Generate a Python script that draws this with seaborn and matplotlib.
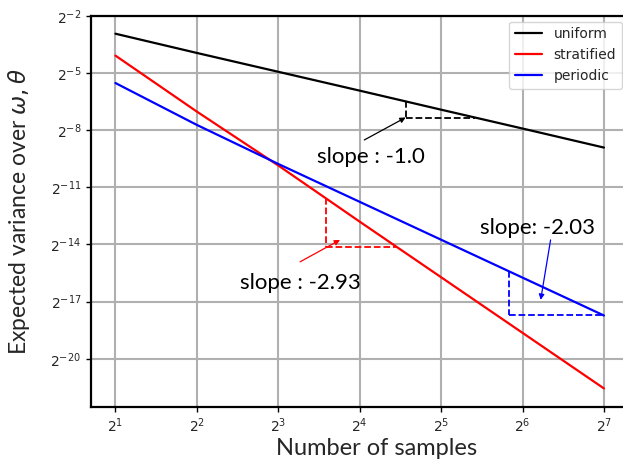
import numpy as np
import pandas as pd
import matplotlib
matplotlib.use("Agg")
import matplotlib.pyplot as plt
import matplotlib.ticker as mticker
import seaborn as sns

# ---- data (log2 of the values) ----
samples = [2, 4, 8, 16, 32, 64, 128]
uniform_log2 = [-2.93, -3.94, -4.93, -5.92, -6.92, -7.91, -8.91]
stratified_log2 = [-4.08, -7.02, -9.85, -12.80, -15.72, -18.64, -21.56]
periodic_log2 = [-5.52, -7.72, -9.77, -11.76, -13.75, -15.74, -17.73]
series_names = ["uniform", "stratified", "periodic"]
series_colors = ["black", "red", "blue"]
slope_labels = ["slope : -1.0", "slope : -2.93", "slope: -2.03"]
# slope-triangle x extents (log2 of samples)
tri_x_log2 = [(4.565, 5.416), (3.583, 4.455), (5.838, 7.0)]
# text centres and arrow tail/head (log2 x, log2 y)
text_pos = [(4.14, -9.40), (3.268, -16.02), (6.19, -13.13)]
arrow_tail = [(4.057, -8.51), (3.268, -14.91), (6.345, -13.76)]
arrow_head = [(4.565, -7.33), (3.759, -13.76), (6.223, -16.91)]
y_tick_exp = [-2, -5, -8, -11, -14, -17, -20]
x_tick_exp = [1, 2, 3, 4, 5, 6, 7]

logs = [uniform_log2, stratified_log2, periodic_log2]
df = pd.DataFrame({
    "samples": samples * 3,
    "variance": np.concatenate([2.0 ** np.array(l) for l in logs]),
    "method": sum([[n] * len(samples) for n in series_names], []),
})

sns.set_style("white")
plt.rcParams["font.family"] = ["DejaVu Sans"]
label_font = "Lato"

fig = plt.figure(figsize=(6.23, 4.59), dpi=100)
ax = fig.add_axes([91 / 623, 1 - 406.7 / 459, 552 / 623, (406.7 - 16) / 459])

sns.lineplot(data=df, x="samples", y="variance", hue="method",
             palette=dict(zip(series_names, series_colors)), linewidth=1.6,
             ax=ax, legend=False, zorder=3)

ax.set_xscale("log", base=2)
ax.set_yscale("log", base=2)
ax.set_xlim(2 ** 0.70, 2 ** 7.48)
ax.set_ylim(2 ** -22.52, 2 ** -2)
ax.xaxis.set_major_locator(mticker.FixedLocator([2.0 ** e for e in x_tick_exp]))
ax.yaxis.set_major_locator(mticker.FixedLocator([2.0 ** e for e in y_tick_exp]))
ax.xaxis.set_major_formatter(mticker.LogFormatterSciNotation(base=2))
ax.yaxis.set_major_formatter(mticker.LogFormatterSciNotation(base=2))
ax.xaxis.set_minor_locator(mticker.NullLocator())
ax.yaxis.set_minor_locator(mticker.NullLocator())
ax.tick_params(axis="both", which="major", direction="out", length=3.5, width=1,
               labelsize=10, color="black", left=True, bottom=True)
ax.grid(True, color="#b0b0b0", linewidth=1.5, zorder=0)
ax.set_axisbelow(True)
for s in ax.spines.values():
    s.set_color("black")
    s.set_linewidth(1.6)

ax.set_xlabel("Number of samples", fontsize=17, family=[label_font, "DejaVu Sans"])
ax.set_ylabel(r"Expected variance over $\omega, \theta$", fontsize=16.5,
              family=[label_font, "DejaVu Sans"])
ax.xaxis.set_label_coords(0.5 + 10 / 552, -0.079)
ax.yaxis.set_label_coords(-0.107, 0.5)

# slope triangles and annotations
for i, (name, col) in enumerate(zip(series_names, series_colors)):
    lx = np.log2(samples)
    ly = np.array(logs[i])
    x1, x2 = tri_x_log2[i]
    y1 = np.interp(x1, lx, ly)
    y2 = np.interp(x2, lx, ly)
    ax.plot([2 ** x1, 2 ** x1], [2 ** y1, 2 ** y2], color=col, ls="--", lw=1.3, zorder=4)
    ax.plot([2 ** x1, 2 ** x2], [2 ** y2, 2 ** y2], color=col, ls="--", lw=1.3, zorder=4)
    tx, ty = text_pos[i]
    ax.text(2 ** tx, 2 ** ty, slope_labels[i], color="black", fontsize=16,
            family=[label_font, "DejaVu Sans"], ha="center", va="center", zorder=5)
    ax.annotate("", xy=(2 ** arrow_head[i][0], 2 ** arrow_head[i][1]),
                xytext=(2 ** arrow_tail[i][0], 2 ** arrow_tail[i][1]),
                arrowprops=dict(arrowstyle="-|>", color=col, lw=0.9,
                                mutation_scale=8, shrinkA=0, shrinkB=0), zorder=5)

handles = [plt.Line2D([], [], color=c, lw=1.6) for c in series_colors]
ax.legend(handles, series_names, loc="upper right", fontsize=10,
          bbox_to_anchor=(621.7 / 623, 1 - 21.7 / 459), bbox_transform=fig.transFigure,
          borderaxespad=0, framealpha=0.8)

fig.savefig("out.png", dpi=100)
